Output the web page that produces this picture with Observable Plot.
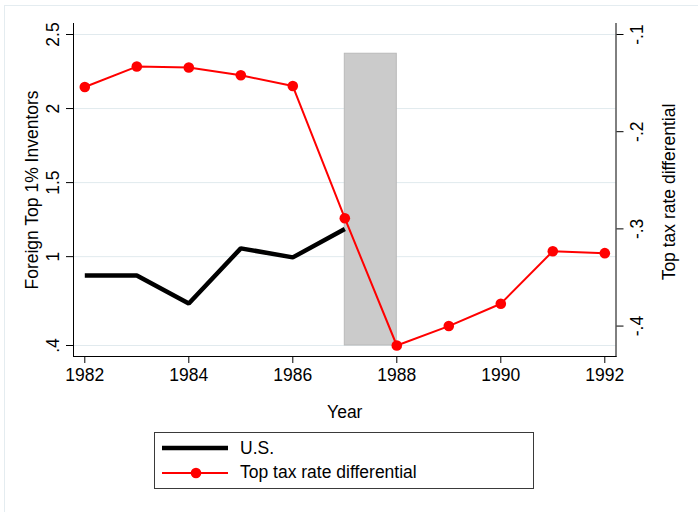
<!DOCTYPE html>
<html><head><meta charset="utf-8">
<script src="https://cdn.jsdelivr.net/npm/d3@7"></script>
<script src="https://cdn.jsdelivr.net/npm/@observablehq/plot@0.6"></script>
<style>
html,body{margin:0;padding:0;background:#fff;}
body{width:698px;height:512px;position:relative;overflow:hidden;font-family:"Liberation Sans",Arial,sans-serif;}
#outer{position:absolute;left:4px;top:5px;width:720px;height:540px;border-left:1px solid #e4ecf0;border-top:1px solid #e4ecf0;pointer-events:none;}
#legend{position:relative;margin-left:154px;margin-top:2px;width:380px;height:57px;box-sizing:border-box;border:1px solid #3a3a3a;}
.row{position:absolute;left:7px;height:20px;display:flex;align-items:center;font-size:17.5px;color:#000;white-space:nowrap;}
.row svg{margin-right:12px;display:block;}
</style></head><body>
<div id="chart"></div>
<div id="legend"></div>
<div id="outer"></div>
<script>
// ---- data ----
const years = [1982,1983,1984,1985,1986,1987,1988,1989,1990,1991,1992];
const usYears = [1982,1983,1984,1985,1986,1987];
const usValues = [0.872,0.872,0.684,1.056,0.995,1.187];
const taxDiff = [-0.154,-0.133,-0.134,-0.142,-0.153,-0.289,-0.420,-0.400,-0.377,-0.323,-0.325];
const xTicks = [1982,1984,1986,1988,1990,1992];
const leftTicks = [0.4,1,1.5,2,2.5];
const rightTicks = [-0.4,-0.3,-0.2,-0.1];
const leftDomain = [0.4,2.5];
const rightDomain = [-0.42,-0.1];
const shadeStart = [1987];
const shadeEnd = [1988];
const shadeTop = [2.37];
const seriesNames = ["U.S.","Top tax rate differential"];
const seriesColors = ["#000000","#ff0000"];
const axisTitles = ["Foreign Top 1% Inventors","Top tax rate differential","Year"];

// ---- build ----
const toLeft = d3.scaleLinear().domain(rightDomain).range(leftDomain);
const fmt = d => String(+(+d).toFixed(2)).replace(/^(-?)0\./, "$1.");
const us = usYears.map((year,i)=>({year, value: usValues[i]}));
const tax = years.map((year,i)=>({year, value: taxDiff[i], y: toLeft(taxDiff[i])}));
const shade = shadeStart.map((s,i)=>({x1:s, x2:shadeEnd[i], y1:leftDomain[0], y2:shadeTop[i]}));
const font = '"Liberation Sans", Arial, sans-serif';

const chart = Plot.plot({
  width:698, height:430,
  marginLeft:73, marginRight:82.5, marginTop:23, marginBottom:74,
  style:{fontFamily:font, fontSize:"17.5px", color:"#000", background:"transparent"},
  x:{domain:[1982,1992], range:[84.3,604.3]},
  y:{domain:leftDomain, range:[345,34]},
  marks:[
    Plot.gridY(leftTicks,{stroke:"#e1eaee", strokeOpacity:1, strokeWidth:1}),
    Plot.rect(shade,{x1:"x1",x2:"x2",y1:"y1",y2:"y2",fill:"#cbcbcb",stroke:"#b9b9b9",strokeWidth:1}),
    Plot.line(us,{x:"year",y:"value",stroke:seriesColors[0],strokeWidth:4.5,strokeLinecap:"butt",strokeLinejoin:"miter"}),
    Plot.line(tax,{x:"year",y:"y",stroke:seriesColors[1],strokeWidth:2}),
    Plot.dot(tax,{x:"year",y:"y",r:5.3,fill:seriesColors[1]}),
    Plot.frame({anchor:"left", stroke:"#000"}),
    Plot.frame({anchor:"right", stroke:"#000"}),
    Plot.frame({anchor:"bottom", stroke:"#000"}),
    Plot.axisX({ticks:xTicks, tickSize:7, tickPadding:5, tickFormat:d=>String(d), label:null, fontSize:17.5}),
    Plot.axisY({anchor:"left", ticks:leftTicks, tickSize:7, tickPadding:8, tickRotate:-90, tickFormat:fmt, label:null, fontSize:17.5}),
    Plot.axisY({anchor:"right", ticks:rightTicks.map(toLeft), tickSize:7, tickPadding:19.5, tickRotate:-90, tickFormat:d=>fmt(toLeft.invert(d)), label:null, fontSize:17.5}),
    Plot.text([axisTitles[0]],{text:d=>d, frameAnchor:"left", rotate:-90, dx:-36, lineAnchor:"bottom", textAnchor:"middle", fontSize:17.5}),
    Plot.text([axisTitles[1]],{text:d=>d, frameAnchor:"right", rotate:-90, dx:59, dy:2, lineAnchor:"bottom", textAnchor:"middle", fontSize:17.5}),
    Plot.text([axisTitles[2]],{text:d=>d, frameAnchor:"bottom", dy:49, lineAnchor:"top", textAnchor:"middle", fontSize:17.5})
  ]
});
document.getElementById("chart").appendChild(chart);

// ---- legend ----
const legend = document.getElementById("legend");
const rowTops = [5, 29.7];
seriesNames.forEach((name,i)=>{
  const row = document.createElement("div");
  row.className = "row";
  row.style.top = rowTops[i] + "px";
  const ns = "http://www.w3.org/2000/svg";
  const svg = document.createElementNS(ns,"svg");
  svg.setAttribute("width","66"); svg.setAttribute("height","20");
  const ln = document.createElementNS(ns,"line");
  ln.setAttribute("x1","0"); ln.setAttribute("x2","66");
  ln.setAttribute("y1","10"); ln.setAttribute("y2","10");
  ln.setAttribute("stroke", seriesColors[i]);
  ln.setAttribute("stroke-width", i===0 ? "4.5" : "2");
  svg.appendChild(ln);
  if (i===1) {
    const c = document.createElementNS(ns,"circle");
    c.setAttribute("cx","34"); c.setAttribute("cy","10"); c.setAttribute("r","5.3");
    c.setAttribute("fill", seriesColors[i]);
    svg.appendChild(c);
  }
  row.appendChild(svg);
  const t = document.createElement("span");
  t.textContent = name;
  row.appendChild(t);
  legend.appendChild(row);
});
</script>
</body></html>
